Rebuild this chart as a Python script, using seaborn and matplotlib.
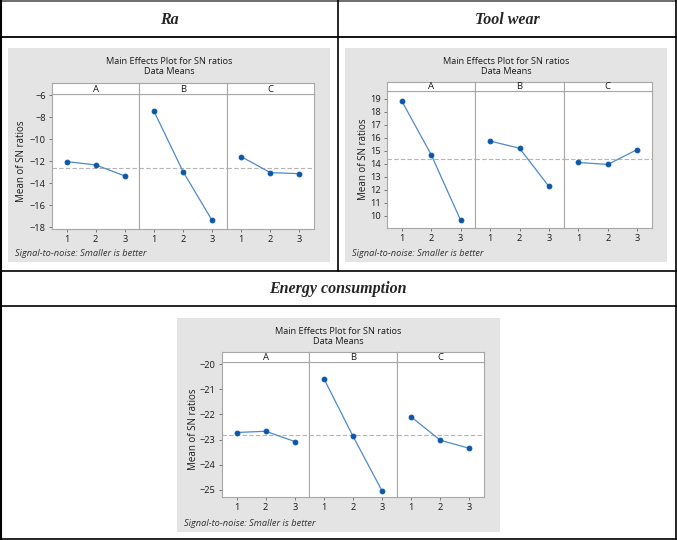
import numpy as np
import pandas as pd
import matplotlib
matplotlib.use('Agg')
import matplotlib.pyplot as plt
from matplotlib.lines import Line2D
from matplotlib.patches import Rectangle
import seaborn as sns

sns.set_style('white')
plt.rcParams['font.family'] = ['Open Sans', 'DejaVu Sans']

# factor levels and SN ratio means
factors = ['A', 'B', 'C']
levels = [1, 2, 3]
ra_sn = [[-12.05, -12.35, -13.35], [-7.45, -12.95, -17.4], [-11.6, -13.05, -13.15]]
wear_sn = [[18.85, 14.7, 9.65], [15.75, 15.2, 12.25], [14.1, 13.95, 15.1]]
energy_sn = [[-22.72, -22.67, -23.08], [-20.57, -22.87, -25.05], [-22.1, -23.03, -23.35]]

ra_ticks = [-6, -8, -10, -12, -14, -16, -18]
wear_ticks = [10, 11, 12, 13, 14, 15, 16, 17, 18, 19]
energy_ticks = [-20, -21, -22, -23, -24, -25]

W, H = 677, 540
LINE_C = '#4f8acb'
MARK_C = '#0b57a8'
EDGE_C = '#a8a8a8'
BG_C = '#e4e4e4'
TXT_C = '#1a1a1a'

fig = plt.figure(figsize=(W / 100, H / 100), dpi=100)


def rect(x0, y0, x1, y1):
    return [x0 / W, 1 - y1 / H, (x1 - x0) / W, (y1 - y0) / H]


def hline(y, x0=1, x1=676, c='black', lw=1.0):
    fig.add_artist(Line2D([x0 / W, x1 / W], [1 - y / H, 1 - y / H],
                          transform=fig.transFigure, color=c, lw=lw))


def vline(x, y0, y1, c='black', lw=1.0):
    fig.add_artist(Line2D([x / W, x / W], [1 - y0 / H, 1 - y1 / H],
                          transform=fig.transFigure, color=c, lw=lw))


def to_long(values):
    rows = []
    for f, vals in zip(factors, values):
        for lv, v in zip(levels, vals):
            rows.append({'factor': f, 'level': lv, 'sn': v})
    return pd.DataFrame(rows)


def main_effects(box, axes_box, values, ticks, ylim, label_x):
    bx0, by0, bx1, by1 = box
    fig.add_artist(Rectangle((bx0 / W, 1 - by1 / H), (bx1 - bx0) / W, (by1 - by0) / H,
                             transform=fig.transFigure, facecolor=BG_C, edgecolor='none', zorder=0))
    cx = (bx0 + bx1) / 2
    fig.text(cx / W, 1 - (by0 + 13) / H, 'Main Effects Plot for SN ratios',
             ha='center', va='center', fontsize=6.6, color=TXT_C)
    fig.text(cx / W, 1 - (by0 + 23.5) / H, 'Data Means',
             ha='center', va='center', fontsize=6.6, color=TXT_C)
    fig.text((bx0 + 7) / W, 1 - (by1 - 8) / H, 'Signal-to-noise: Smaller is better',
             ha='left', va='center', fontsize=6.7, style='italic', color='#333333')

    ax0, strip_top, ax1, ay0, ay1 = axes_box
    df = to_long(values)
    grand = df['sn'].mean()
    pw = (ax1 - ax0) / 3
    for i, f in enumerate(factors):
        x0 = ax0 + i * pw
        ax = fig.add_axes(rect(x0, ay0, x0 + pw, ay1))
        ax.set_facecolor('white')
        sns.lineplot(data=df[df['factor'] == f], x='level', y='sn', ax=ax,
                     color=LINE_C, lw=0.9, marker='o', markersize=3.4,
                     markerfacecolor=MARK_C, markeredgecolor=MARK_C, zorder=3)
        ax.axhline(grand, color='#b5b5b5', ls=(0, (4, 2)), lw=0.8, zorder=1)
        ax.set_xlim(0.5, 3.5)
        ax.set_ylim(*ylim)
        ax.set_xticks(levels)
        ax.set_xticklabels([str(l) for l in levels])
        ax.set_xlabel('')
        ax.set_ylabel('')
        ax.tick_params(axis='both', labelsize=6.7, length=2.5, width=0.6,
                       color='#666666', labelcolor=TXT_C, pad=2)
        ax.tick_params(axis='x', bottom=True)
        for s in ax.spines.values():
            s.set_color(EDGE_C)
            s.set_linewidth(0.8)
        if i == 0:
            ax.set_yticks(ticks)
            ax.tick_params(axis='y', left=True)
        else:
            ax.set_yticks([])
        # strip
        sax = fig.add_axes(rect(x0, strip_top, x0 + pw, ay0))
        sax.set_xticks([])
        sax.set_yticks([])
        sax.set_facecolor('white')
        for s in sax.spines.values():
            s.set_color(EDGE_C)
            s.set_linewidth(0.8)
        sax.text(0.5, 0.45, f, ha='center', va='center', fontsize=6.8,
                 color=TXT_C, transform=sax.transAxes)
    fig.text(label_x / W, 1 - ((ay0 + ay1) / 2) / H, 'Mean of SN ratios', rotation=90,
             ha='center', va='center', fontsize=7.0, color=TXT_C)


main_effects((8, 48, 330, 262), (52, 83, 314, 94, 229), ra_sn, ra_ticks, (-18.18, -5.9), 22)
main_effects((345, 48, 667, 262), (387, 82, 652, 91, 228), wear_sn, wear_ticks, (9.05, 19.61), 364)
main_effects((177, 318, 500, 532), (222, 352, 484, 362, 497), energy_sn, energy_ticks, (-25.29, -19.91), 193)

# table frame
hline(0.7, c='#555555', lw=1.2)
hline(36.5, lw=1.3)
hline(270.5, lw=1.2)
hline(305.5, lw=1.2)
hline(539.2, lw=1.2)
vline(1, 0, 540, lw=1.5)
vline(676, 0, 540, lw=1.2)
vline(338, 0, 270.5, lw=1.2)

title_font = dict(family='Liberation Serif', weight='bold', style='italic', fontsize=11.5)
fig.text(169 / W, 1 - 20 / H, 'Ra', ha='center', va='center', **title_font)
fig.text(507 / W, 1 - 20 / H, 'Tool wear', ha='center', va='center', **title_font)
fig.text(338 / W, 1 - 289 / H, 'Energy consumption', ha='center', va='center', **title_font)

fig.savefig('out.png', dpi=100)
